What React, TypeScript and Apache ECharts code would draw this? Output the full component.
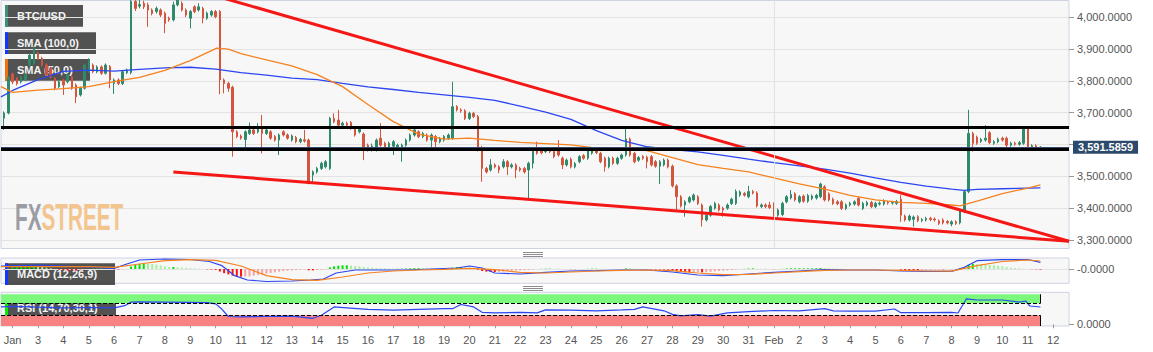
import React, { useEffect, useRef } from "react";
import * as echarts from "echarts";

// Hours are counted from Jan 1 00:00 (UTC). The visible window runs from hour 13 to hour 1023.
const FIRST_HOUR = 13;
const LAST_HOUR = 1023;
const CANDLE_START_HOUR = 16; // first 4h candle
const CANDLE_STEP = 4;

// BTC/USD 4h candles: [open, close, low, high]
const candles: number[][] = [
  [3683, 3699, 3646, 3704], [3699, 3812, 3695, 3816], [3822, 3797, 3790, 3826], [3808, 3792, 3786, 3812],
  [3797, 3813, 3792, 3817], [3803, 3819, 3799, 3824], [3850, 3881, 3845, 3886], [3855, 3902, 3850, 3908],
  [3887, 3871, 3866, 3892], [3871, 3850, 3845, 3876], [3850, 3819, 3814, 3855], [3840, 3813, 3808, 3845],
  [3808, 3777, 3771, 3812], [3782, 3797, 3777, 3801], [3803, 3787, 3756, 3807], [3797, 3819, 3792, 3824],
  [3813, 3777, 3772, 3818], [3787, 3750, 3730, 3792], [3756, 3777, 3751, 3782], [3777, 3850, 3773, 3855],
  [3829, 3866, 3825, 3871], [3850, 3829, 3824, 3855], [3829, 3844, 3824, 3849], [3844, 3824, 3819, 3849],
  [3824, 3850, 3820, 3855], [3845, 3803, 3777, 3850], [3792, 3803, 3759, 3808], [3803, 3792, 3787, 3808],
  [3792, 3829, 3787, 3834], [3826, 3834, 3821, 3839], [3826, 4050, 3821, 4060], [4050, 4028, 4020, 4075],
  [4035, 4040, 4028, 4060], [4044, 4033, 4026, 4052], [4039, 4023, 3970, 4046], [4023, 4012, 4006, 4028],
  [4018, 4028, 4012, 4034], [4023, 4007, 4001, 4028], [4013, 3981, 3950, 4018], [3997, 3992, 3986, 4002],
  [3992, 4039, 3987, 4049], [4039, 4055, 4034, 4070], [4044, 4023, 4018, 4050], [4023, 4007, 4001, 4028],
  [3997, 4018, 3965, 4023], [4033, 4018, 4013, 4038], [4023, 4033, 4018, 4044], [4028, 3997, 3981, 4033],
  [3997, 4013, 3992, 4018], [4007, 4018, 4002, 4023], [4018, 4002, 3997, 4023], [4018, 3803, 3758, 4023],
  [3803, 3792, 3761, 3808], [3792, 3777, 3766, 3797], [3780, 3640, 3562, 3785], [3640, 3625, 3620, 3645],
  [3627, 3620, 3615, 3632], [3616, 3640, 3588, 3645], [3635, 3646, 3630, 3669], [3646, 3635, 3630, 3651],
  [3640, 3651, 3635, 3667], [3651, 3635, 3572, 3693], [3635, 3646, 3630, 3651], [3640, 3620, 3615, 3645],
  [3625, 3614, 3609, 3630], [3614, 3630, 3567, 3635], [3640, 3630, 3625, 3645], [3630, 3620, 3615, 3635],
  [3614, 3627, 3609, 3632], [3622, 3609, 3604, 3627], [3609, 3616, 3604, 3621], [3615, 3611, 3606, 3646],
  [3614, 3478, 3475, 3619], [3504, 3514, 3483, 3519], [3514, 3525, 3509, 3530], [3525, 3541, 3520, 3546],
  [3530, 3546, 3525, 3551], [3525, 3682, 3520, 3687], [3682, 3672, 3667, 3698], [3677, 3661, 3656, 3709],
  [3661, 3667, 3656, 3672], [3667, 3661, 3656, 3672], [3669, 3651, 3646, 3674], [3651, 3630, 3625, 3656],
  [3640, 3651, 3635, 3656], [3633, 3588, 3551, 3638], [3598, 3583, 3578, 3603], [3583, 3595, 3578, 3603],
  [3583, 3614, 3578, 3619], [3620, 3598, 3593, 3667], [3604, 3590, 3585, 3609], [3588, 3604, 3583, 3609],
  [3595, 3609, 3567, 3614], [3585, 3598, 3580, 3603], [3590, 3598, 3546, 3603], [3598, 3614, 3593, 3619],
  [3614, 3630, 3609, 3635], [3630, 3646, 3625, 3658], [3640, 3625, 3620, 3645], [3625, 3635, 3620, 3640],
  [3630, 3614, 3609, 3635], [3614, 3630, 3590, 3635], [3625, 3609, 3583, 3630], [3609, 3619, 3604, 3624],
  [3614, 3625, 3609, 3630], [3620, 3630, 3615, 3635], [3620, 3719, 3615, 3797], [3719, 3709, 3704, 3724],
  [3709, 3706, 3700, 3714], [3706, 3682, 3677, 3711], [3682, 3698, 3677, 3703], [3698, 3688, 3683, 3703],
  [3688, 3583, 3578, 3693], [3591, 3525, 3483, 3596], [3525, 3514, 3509, 3530], [3520, 3536, 3515, 3554],
  [3536, 3530, 3525, 3541], [3530, 3520, 3510, 3535], [3530, 3546, 3525, 3554], [3546, 3530, 3504, 3551],
  [3530, 3536, 3525, 3541], [3536, 3520, 3494, 3541], [3525, 3520, 3515, 3530], [3525, 3514, 3509, 3530],
  [3520, 3541, 3431, 3546], [3541, 3583, 3525, 3588], [3583, 3573, 3568, 3609], [3585, 3574, 3569, 3590],
  [3578, 3585, 3573, 3590], [3585, 3578, 3573, 3590], [3578, 3562, 3557, 3583], [3583, 3567, 3562, 3614],
  [3557, 3536, 3523, 3562], [3536, 3551, 3531, 3556], [3554, 3530, 3525, 3559], [3530, 3540, 3525, 3545],
  [3546, 3562, 3541, 3567], [3565, 3557, 3552, 3570], [3557, 3583, 3552, 3588], [3573, 3583, 3568, 3588],
  [3580, 3575, 3570, 3585], [3572, 3546, 3541, 3577], [3557, 3530, 3515, 3562], [3530, 3557, 3525, 3562],
  [3557, 3541, 3536, 3562], [3541, 3557, 3536, 3562], [3557, 3567, 3552, 3572], [3567, 3617, 3562, 3658],
  [3617, 3567, 3562, 3622], [3572, 3546, 3541, 3577], [3551, 3559, 3546, 3564], [3562, 3557, 3552, 3567],
  [3560, 3546, 3525, 3565], [3562, 3536, 3531, 3567], [3546, 3532, 3527, 3551], [3532, 3546, 3476, 3551],
  [3536, 3551, 3531, 3556], [3551, 3530, 3525, 3556], [3532, 3470, 3465, 3537], [3470, 3436, 3394, 3475],
  [3436, 3407, 3402, 3441], [3410, 3420, 3373, 3425], [3420, 3433, 3415, 3438], [3426, 3441, 3421, 3446],
  [3436, 3415, 3410, 3441], [3410, 3363, 3342, 3415], [3363, 3378, 3358, 3383], [3378, 3405, 3373, 3410],
  [3400, 3415, 3395, 3420], [3410, 3394, 3389, 3415], [3400, 3394, 3373, 3405], [3400, 3410, 3395, 3415],
  [3415, 3428, 3410, 3433], [3415, 3452, 3410, 3459], [3441, 3451, 3436, 3456], [3446, 3441, 3436, 3451],
  [3436, 3452, 3431, 3470], [3452, 3448, 3443, 3457], [3448, 3407, 3402, 3453], [3405, 3410, 3400, 3415],
  [3410, 3405, 3400, 3415], [3410, 3402, 3397, 3420], [3413, 3378, 3373, 3418], [3378, 3394, 3373, 3399],
  [3380, 3415, 3375, 3420], [3420, 3436, 3415, 3441], [3432, 3443, 3427, 3457], [3445, 3426, 3421, 3450],
  [3420, 3436, 3415, 3441], [3438, 3422, 3417, 3443], [3422, 3440, 3417, 3445], [3430, 3438, 3425, 3443],
  [3432, 3440, 3427, 3445], [3436, 3476, 3431, 3480], [3467, 3426, 3421, 3472], [3445, 3426, 3421, 3450],
  [3428, 3415, 3410, 3433], [3420, 3414, 3409, 3425], [3420, 3399, 3394, 3425], [3399, 3410, 3394, 3415],
  [3410, 3415, 3405, 3420], [3413, 3420, 3408, 3425], [3431, 3410, 3405, 3436], [3399, 3415, 3394, 3420],
  [3410, 3418, 3405, 3423], [3418, 3405, 3400, 3423], [3405, 3415, 3400, 3420], [3413, 3416, 3408, 3421],
  [3413, 3423, 3408, 3428], [3418, 3416, 3411, 3423], [3416, 3418, 3411, 3423], [3415, 3421, 3410, 3426],
  [3428, 3378, 3357, 3441], [3375, 3363, 3358, 3380], [3363, 3375, 3358, 3380], [3365, 3372, 3342, 3377],
  [3373, 3361, 3356, 3378], [3361, 3364, 3356, 3369], [3363, 3368, 3358, 3373], [3368, 3364, 3359, 3373],
  [3366, 3363, 3358, 3371], [3360, 3352, 3347, 3365], [3363, 3354, 3349, 3368], [3358, 3354, 3349, 3363],
  [3350, 3357, 3343, 3362], [3357, 3352, 3347, 3362], [3354, 3394, 3349, 3399], [3389, 3452, 3384, 3457],
  [3452, 3635, 3447, 3709], [3635, 3604, 3578, 3640], [3623, 3604, 3599, 3628], [3610, 3616, 3605, 3621],
  [3614, 3620, 3609, 3661], [3637, 3606, 3601, 3642], [3604, 3609, 3599, 3614], [3609, 3617, 3604, 3622],
  [3620, 3614, 3609, 3625], [3620, 3598, 3590, 3625], [3598, 3604, 3593, 3609], [3604, 3601, 3596, 3609],
  [3601, 3606, 3596, 3611], [3604, 3651, 3599, 3656], [3651, 3593, 3588, 3656], [3590, 3596, 3585, 3601],
  [3596, 3588, 3583, 3601], [3588, 3591.5859, 3585, 3595],
];

// Moving averages, read at [hour, price]
const sma100: number[][] = [
  [13, 3750], [24, 3770], [48, 3804], [72, 3830], [96, 3834], [120, 3831], [144, 3836], [168, 3841],
  [192, 3843], [216, 3837], [240, 3826], [264, 3818], [288, 3809], [312, 3804], [336, 3792], [360, 3781],
  [384, 3773], [408, 3764], [432, 3756], [456, 3748], [480, 3739], [504, 3721], [528, 3702], [552, 3679],
  [576, 3644], [600, 3613], [624, 3593], [648, 3584], [672, 3577], [696, 3566], [720, 3554], [744, 3543],
  [768, 3533], [792, 3523], [816, 3510], [840, 3495], [864, 3481], [888, 3469], [912, 3460], [924, 3456],
  [936, 3459], [960, 3461], [984, 3463], [996, 3464],
];
const sma50: number[][] = [
  [13, 3782], [24, 3764], [48, 3771], [72, 3776], [96, 3782], [120, 3798], [144, 3811], [168, 3833],
  [192, 3864], [217, 3903], [228, 3900], [240, 3886], [264, 3866], [288, 3847], [312, 3820], [336, 3782],
  [360, 3726], [384, 3672], [408, 3633], [432, 3617], [456, 3620], [480, 3613], [504, 3607], [528, 3603],
  [552, 3599], [576, 3589], [600, 3587], [624, 3581], [648, 3559], [672, 3537], [696, 3525], [720, 3514],
  [744, 3495], [768, 3476], [792, 3460], [816, 3440], [840, 3426], [864, 3418], [888, 3415], [912, 3410],
  [920, 3407], [936, 3422], [960, 3446], [984, 3463], [996, 3473],
];

// Drawn trend lines [hour, price]
const upperTrend: number[][] = [[224, 4059.6], [1023, 3296]];
const lowerTrend: number[][] = [[176, 3514], [1023, 3296]];
const levels = [3652.9, 3583.8];
const lastPrice = 3591.5859;
const FEB_1_HOUR = 744;

const priceTicks = [3300, 3400, 3500, 3600, 3700, 3800, 3900, 4000];
const priceLabels = [3300, 3400, 3500, 3700, 3800, 3900, 4000];

// MACD (12,26,9) [hour, value]
const macdLine: number[][] = [
  [13, 18], [48, 24], [96, 12], [120, 4], [132, 30], [144, 54], [168, 60], [192, 57], [210, 45], [222, 20],
  [234, -40], [246, -66], [264, -75], [288, -72], [306, -66], [318, -60], [330, -24], [348, -6], [372, -6],
  [396, -6], [420, 0], [444, 6], [456, 18], [468, 6], [480, -24], [504, -30], [528, -20], [552, -12],
  [576, -10], [600, -6], [624, -6], [648, -18], [672, -36], [696, -40], [720, -30], [744, -20], [768, -12],
  [792, -4], [816, -6], [840, -6], [864, -12], [888, -14], [912, -14], [924, 10], [936, 50], [960, 56],
  [984, 57], [996, 40],
];
const signalLine: number[][] = [
  [13, 14], [96, 14], [120, 10], [144, 30], [168, 50], [192, 56], [216, 52], [240, 18], [264, -40],
  [288, -64], [312, -68], [336, -48], [360, -24], [384, -12], [408, -6], [432, -2], [456, 4], [480, -4],
  [504, -20], [528, -24], [552, -18], [576, -12], [600, -8], [624, -6], [648, -10], [672, -24], [696, -34],
  [720, -32], [744, -24], [768, -16], [792, -8], [816, -6], [840, -6], [864, -8], [888, -12], [912, -13],
  [936, 20], [960, 45], [984, 54], [996, 48],
];
// histogram, one value per candle
const macdHist: number[] = [
  -3, 2, 8, 10, 12, 14, 16, 18, 16, 12,
  8, 4, 0, -4, -6, -8, -10, -10, -8, -4,
  0, 2, 3, 2, 2, 0, -2, -3, -2, 0,
  15, 24, 30, 33, 32, 30, 26, 22, 16, 12,
  12, 10, 8, 6, 4, 3, 2, 0, -2, -3,
  -5, -15, -25, -32, -40, -44, -46, -45, -44, -40,
  -36, -32, -28, -24, -20, -16, -12, -10, -8, -6,
  -4, -3, -8, -8, -6, -4, -2, 10, 16, 20,
  22, 22, 20, 18, 16, 12, 10, 8, 6, 5,
  4, 3, 2, 2, 2, 3, 4, 5, 5, 4,
  3, 2, 1, 1, 1, 1, 8, 12, 12, 10,
  8, 6, -4, -12, -16, -18, -18, -17, -15, -13,
  -11, -9, -8, -7, -5, -2, 0, 1, 2, 2,
  1, 1, 0, 0, -1, -1, 0, 0, 1, 2,
  2, 1, 0, 0, 0, 0, 0, 4, 3, 1,
  0, -1, -1, -2, -3, -3, -3, -4, -8, -14,
  -18, -20, -20, -19, -18, -20, -19, -17, -14, -12,
  -10, -8, -6, -3, -1, 1, 3, 4, 2, 1,
  1, 0, -1, 0, 1, 3, 4, 4, 4, 4,
  4, 4, 4, 6, 5, 4, 3, 2, 1, 0,
  0, 0, 0, 0, 0, 0, 0, 0, 0, 0,
  0, 0, -4, -6, -7, -7, -7, -6, -5, -4,
  -3, -2, -2, -1, -1, 0, 4, 12, 26, 30,
  28, 27, 26, 24, 22, 19, 16, 12, 9, 6,
  4, 2, 0, -1, -2, -3,
];

// RSI (14) [hour, value]
const rsiLine: number[][] = [
  [13, 58], [24, 60], [48, 57], [72, 55], [96, 56], [120, 55], [130, 62], [136, 74], [144, 75], [168, 74],
  [192, 73], [208, 72], [216, 68], [222, 50], [228, 26], [240, 25], [264, 26], [288, 27], [308, 20],
  [316, 30], [328, 58], [340, 55], [360, 50], [384, 47], [408, 50], [432, 52], [440, 52], [448, 66],
  [460, 58], [468, 40], [480, 38], [504, 40], [520, 38], [528, 48], [552, 47], [576, 45], [600, 48],
  [612, 50], [620, 58], [640, 45], [648, 33], [656, 28], [672, 32], [684, 27], [700, 38], [720, 42],
  [744, 46], [768, 45], [792, 52], [800, 45], [816, 44], [840, 44], [858, 51], [864, 38.7], [888, 39],
  [912, 40], [918, 37.7], [926, 85], [936, 81], [960, 81], [976, 74], [982, 77.7], [986, 61], [996, 57.7],
];
const RSI_HIGH = 70;
const RSI_LOW = 30;

const UP = "#2f8a6c";
const DOWN = "#d4553e";
const FONT = '"Liberation Sans", Arial, sans-serif';

function fmt4(v: number) {
  return v.toLocaleString("en-US", { minimumFractionDigits: 4, maximumFractionDigits: 4 });
}

function dayLabel(value: string) {
  const day = Number(value) / 24; // days since Jan 1
  if (day === 1) return "Jan";
  if (day === 31) return "Feb";
  if (day < 31) return String(day + 1);
  return String(day - 30);
}

function buildOption() {
  const cats: string[] = [];
  for (let h = FIRST_HOUR; h <= LAST_HOUR; h++) cats.push(String(h));
  const candleData = cats.map((c) => {
    const k = (Number(c) - CANDLE_START_HOUR) / CANDLE_STEP;
    if (Number.isInteger(k) && k >= 0 && k < candles.length) {
      const [o, cl, l, h] = candles[k];
      return [o, cl, l, h];
    }
    return ["-", "-", "-", "-"];
  });
  const pts = (arr: number[][]) => arr.map(([h, v]) => [String(h), v]);
  const lastHour = String(CANDLE_START_HOUR + CANDLE_STEP * (candles.length - 1));
  const histData = macdHist.map((v, k) => {
    const prev = k > 0 ? macdHist[k - 1] : 0;
    let color;
    if (v >= 0) color = v >= prev ? "#00e000" : "#a6ef9f";
    else color = v <= prev ? "#ff1010" : "#f6a3a3";
    return { value: [String(CANDLE_START_HOUR + CANDLE_STEP * k), v], itemStyle: { color } };
  });
  const dayInterval = (_i: number, v: string) => Number(v) % 24 === 0;

  const gridBase = {
    left: 1,
    width: 1068,
    show: true,
    backgroundColor: "#f7f7f7",
    borderColor: "#cdd3e2",
    borderWidth: 1,
    containLabel: false,
    outerBoundsMode: "none",
  };
  const xBase = {
    type: "category",
    data: cats,
    boundaryGap: false,
    axisLine: { show: false },
    axisTick: { show: false },
    axisLabel: { show: false },
    splitLine: { show: false },
  };
  const lineMark = {
    type: "line",
    showSymbol: false,
    symbol: "none",
    connectNulls: true,
    silent: true,
  };

  return {
    animation: false,
    textStyle: { fontFamily: FONT },
    grid: [
      { ...gridBase, top: 0.5, height: 248 },
      { ...gridBase, top: 258, height: 25.3 },
      { ...gridBase, top: 292.3, height: 33.7 },
    ],
    xAxis: [
      { ...xBase, gridIndex: 0 },
      { ...xBase, gridIndex: 1 },
      {
        ...xBase,
        gridIndex: 2,
        axisTick: { show: true, interval: dayInterval, length: 4, lineStyle: { color: "#999" } },
        axisLabel: {
          show: true,
          interval: dayInterval,
          formatter: dayLabel,
          color: "#555",
          fontSize: 11,
          margin: 8,
          fontFamily: FONT,
        },
      },
    ],
    yAxis: [
      {
        type: "value",
        gridIndex: 0,
        position: "right",
        min: 3273.2,
        max: 4052.8,
        axisLine: { show: false },
        axisTick: { show: true, length: 5, customValues: priceTicks, lineStyle: { color: "#999" } },
        axisLabel: { customValues: priceLabels, formatter: fmt4, color: "#555", fontSize: 11, margin: 8, fontFamily: FONT },
        splitLine: { show: true, lineStyle: { color: "#e3e3e3" } },
      },
      {
        type: "value",
        gridIndex: 1,
        position: "right",
        min: -85.8,
        max: 66,
        axisLine: { show: false },
        axisTick: { show: true, length: 5, customValues: [0], lineStyle: { color: "#999" } },
        axisLabel: { customValues: [0], formatter: () => "-0.0000", color: "#555", fontSize: 11, margin: 8, fontFamily: FONT },
        splitLine: { show: true, lineStyle: { color: "#e3e3e3" } },
      },
      {
        type: "value",
        gridIndex: 2,
        position: "right",
        min: -5.7,
        max: 106.7,
        axisLine: { show: false },
        axisTick: { show: true, length: 5, customValues: [0], lineStyle: { color: "#999" } },
        axisLabel: { customValues: [0], formatter: () => "0.0000", color: "#555", fontSize: 11, margin: 8, fontFamily: FONT },
        splitLine: { show: false },
      },
    ],
    series: [
      {
        type: "candlestick",
        xAxisIndex: 0,
        yAxisIndex: 0,
        data: candleData,
        barWidth: 2,
        large: false,
        clip: true,
        silent: true,
        itemStyle: { color: UP, color0: DOWN, borderColor: UP, borderColor0: DOWN, borderWidth: 1 },
        markLine: {
          silent: true,
          symbol: ["none", "none"],
          animation: false,
          label: { show: false },
          data: [
            { xAxis: String(FEB_1_HOUR), lineStyle: { color: "#e2e2e2", width: 1, type: "solid" } },
          ],
        },
        z: 2,
      },
      { ...lineMark, xAxisIndex: 0, yAxisIndex: 0, data: pts(sma100), lineStyle: { color: "#2b46f0", width: 1.3 }, z: 3 },
      { ...lineMark, xAxisIndex: 0, yAxisIndex: 0, data: pts(sma50), lineStyle: { color: "#f5821f", width: 1.3 }, z: 3 },
      { ...lineMark, xAxisIndex: 0, yAxisIndex: 0, data: pts(upperTrend), lineStyle: { color: "#f51616", width: 3 }, z: 4 },
      { ...lineMark, xAxisIndex: 0, yAxisIndex: 0, data: pts(lowerTrend), lineStyle: { color: "#f51616", width: 3 }, z: 4 },
      {
        type: "line",
        xAxisIndex: 0,
        yAxisIndex: 0,
        data: [],
        silent: true,
        z: 5,
        markLine: {
          silent: true,
          symbol: ["none", "none"],
          animation: false,
          data: [
            ...levels.map((v) => ({ yAxis: v, lineStyle: { color: "#000", width: 3, type: "solid" }, label: { show: false } })),
            {
              yAxis: lastPrice,
              lineStyle: { color: "#34496a", width: 1, type: "solid" },
              label: {
                show: true,
                position: "end",
                distance: 4,
                formatter: () => fmt4(lastPrice),
                backgroundColor: "#2c4a6b",
                color: "#fff",
                fontWeight: "bold",
                fontSize: 11,
                fontFamily: FONT,
                lineHeight: 13,
                padding: [0, 5, 0, 5],
              },
            },
          ],
        },
      },
      // MACD
      { type: "bar", xAxisIndex: 1, yAxisIndex: 1, data: histData, barWidth: 2, silent: true, z: 2 },
      { ...lineMark, xAxisIndex: 1, yAxisIndex: 1, data: pts(macdLine), lineStyle: { color: "#2b46f0", width: 1.2 }, z: 3 },
      { ...lineMark, xAxisIndex: 1, yAxisIndex: 1, data: pts(signalLine), lineStyle: { color: "#f5821f", width: 1.2 }, z: 3 },
      // RSI
      {
        ...lineMark,
        xAxisIndex: 2,
        yAxisIndex: 2,
        data: pts(rsiLine),
        lineStyle: { color: "#2b46f0", width: 1.2 },
        z: 4,
        markArea: {
          silent: true,
          data: [
            [{ coord: [String(FIRST_HOUR), RSI_HIGH], itemStyle: { color: "#7cf97c" } }, { coord: [lastHour, 100] }],
            [{ coord: [String(FIRST_HOUR), -5.7], itemStyle: { color: "#f88282" } }, { coord: [lastHour, RSI_LOW] }],
          ],
        },
        markLine: {
          silent: true,
          symbol: ["none", "none"],
          label: { show: false },
          data: [
            [{ coord: [String(FIRST_HOUR), RSI_HIGH], lineStyle: { color: "#000", type: "dashed", width: 1 } }, { coord: [lastHour, RSI_HIGH] }],
            [{ coord: [String(FIRST_HOUR), RSI_LOW], lineStyle: { color: "#000", type: "dashed", width: 1 } }, { coord: [lastHour, RSI_LOW] }],
            [{ coord: [lastHour, RSI_HIGH], lineStyle: { color: "#000", type: "solid", width: 1 } }, { coord: [lastHour, 100] }],
            [{ coord: [lastHour, -5.7], lineStyle: { color: "#000", type: "solid", width: 1 } }, { coord: [lastHour, RSI_LOW] }],
          ],
        },
      },
    ],
    graphic: [
      // watermark
      {
        type: "text",
        x: 15,
        y: 217,
        scaleX: 0.56,
        z: 1,
        silent: true,
        style: {
          text: "{a|FX}{b|STREET}",
          verticalAlign: "middle",
          rich: {
            a: { fill: "#9b9ca4", fontSize: 37, fontWeight: "bold", fontFamily: FONT },
            b: { fill: "#f3c58e", fontSize: 37, fontWeight: "bold", fontFamily: FONT },
          },
        },
      },
      ...[
        { label: "BTC/USD", y: 5, w: 78, bar: "#3a9077" },
        { label: "SMA (100,0)", y: 32.3, w: 91, bar: "#1036ff" },
        { label: "SMA (50,0)", y: 59, w: 85, bar: "#f07010" },
        { label: "MACD (12,26,9)", y: 263.3, w: 110, bar: "#1036ff" },
        { label: "RSI (14,70,30,1)", y: 297, w: 111, bar: "#00ee00" },
      ].map((b) => ({
        type: "group",
        z: 100,
        silent: true,
        children: [
          { type: "rect", shape: { x: 5, y: b.y, width: b.w, height: 21.7 }, style: { fill: "rgba(55,55,55,0.86)" } },
          { type: "rect", shape: { x: 5, y: b.y, width: 3, height: 21.7 }, style: { fill: b.bar } },
          {
            type: "text",
            x: 17,
            y: b.y + 11,
            style: { text: b.label, fill: "#f4f4f4", font: `bold 11px ${FONT}`, verticalAlign: "middle" },
          },
        ],
      })),
      // panel resize handles
      ...[252.5, 254.5, 256.5, 286.5, 288.5, 290.5].map((y) => ({
        type: "line",
        silent: true,
        shape: { x1: 523, y1: y, x2: 543, y2: y },
        style: { stroke: "#8d8d8d", lineWidth: 1 },
      })),
    ],
  };
}

export default function App() {
  const ref = useRef<HTMLDivElement>(null);
  useEffect(() => {
    if (!ref.current) return;
    const chart = echarts.init(ref.current, undefined, { renderer: "svg" });
    chart.setOption(buildOption() as any);
    return () => chart.dispose();
  }, []);
  return (
    <div
      ref={ref}
      style={{ position: "fixed", left: 0, top: 0, width: 1153, height: 352, background: "#fff" }}
    />
  );
}
